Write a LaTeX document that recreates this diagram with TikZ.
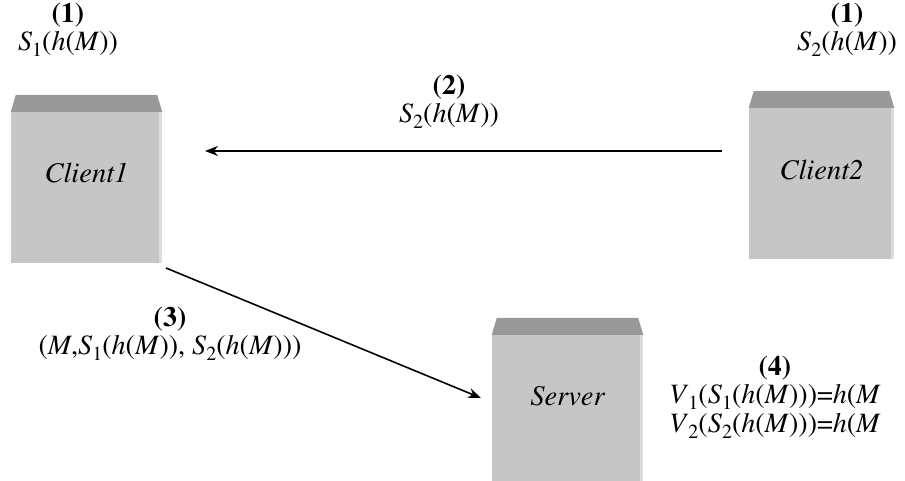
\documentclass[tikz,border=0pt]{standalone}
\usepackage[T1]{fontenc}
\usepackage{times}
\usetikzlibrary{arrows.meta}
\definecolor{frontc}{HTML}{C6C6C6}
\definecolor{topc}{HTML}{999999}
\definecolor{edgec}{HTML}{DCDCDC}
\newcommand\lo[1]{\raisebox{-0.2em}{\fontsize{20}{20}\selectfont #1}}
\begin{document}
\begin{tikzpicture}[x=1pt,y=-1pt,font=\rmfamily\fontsize{28}{28.5}\selectfont]
\useasboundingbox (0,0) rectangle (905,481);
\tikzset{
  frontbox/.style={fill=frontc, draw=none, inner sep=0pt},
  boxlabel/.style={font=\rmfamily\fontsize{28.5}{31}\selectfont\itshape, inner sep=0pt},
  steptext/.style={align=center, inner sep=0pt, font=\rmfamily\fontsize{28}{28.5}\selectfont},
  arr/.style={line width=1.6pt, -{Stealth[length=13pt,width=10pt]}},
}
% boxes
\node[frontbox, minimum width=151pt, minimum height=151pt] (c1) at (86.5,187.5) {};
\node[frontbox, minimum width=145pt, minimum height=151pt] (c2) at (821.5,183.5) {};
\node[frontbox, minimum width=151pt, minimum height=146pt] (sv) at (567.5,408) {};
\foreach \b in {c1,c2,sv}{
  \fill[topc] (\b.north west) -- ([shift={(5,-17)}]\b.north west) -- ([shift={(-5,-17)}]\b.north east) -- (\b.north east) -- cycle;
  \fill[edgec] ([xshift=-3pt]\b.north east) rectangle (\b.south east);
}
\node[boxlabel] (t1) at (86.5,173) {Client1};
\node[boxlabel] (t2) at (821.5,170) {Client2};
\node[boxlabel] (t3) at (567.5,396) {Server};
% labels
\node[steptext, anchor=north] (l1a) at (68,3) {\textbf{(1)}\\\textit{S}\lo{1}(\textit{h}(\textit{M}))};
\node[steptext, anchor=north] (l1b) at (847,3) {\textbf{(1)}\\\textit{S}\lo{2}(\textit{h}(\textit{M}))};
\node[steptext, anchor=north] (l2) at (449,75) {\textbf{(2)}\\\textit{S}\lo{2}(\textit{h}(\textit{M}))};
\node[steptext, anchor=north] (l3) at (170,307) {\textbf{(3)}\\(\textit{M},\textit{S}\lo{1}(\textit{h}(\textit{M})), \textit{S}\lo{2}(\textit{h}(\textit{M})))};
\node[steptext, anchor=north west] (l4) at (669,356) {\textbf{(4)}\\\textit{V}\lo{1}(\textit{S}\lo{1}(\textit{h}(\textit{M})))=\textit{h}(\textit{M}\\\textit{V}\lo{2}(\textit{S}\lo{2}(\textit{h}(\textit{M})))=\textit{h}(\textit{M}};
% arrows
\coordinate (a2s) at (722,151);
\coordinate (a2e) at (205,151);
\coordinate (a3s) at (166,268);
\coordinate (a3e) at (481,398);
\draw[arr] (a2s) -- (a2e);
\draw[arr] (a3s) -- (a3e);
\end{tikzpicture}
\end{document}
